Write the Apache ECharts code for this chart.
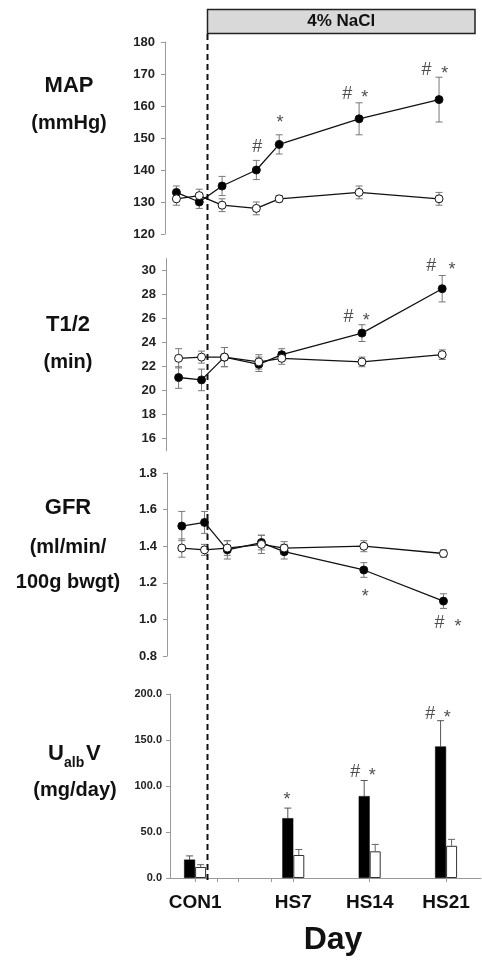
<!DOCTYPE html>
<html><head><meta charset="utf-8">
<script src="https://cdn.jsdelivr.net/npm/echarts@6/dist/echarts.min.js"></script>
<style>html,body{margin:0;padding:0;background:#fff}#c{width:482px;height:960px}</style>
</head><body><div id="c"></div>
<script>
// ---- data ----
const days = [-2, 0, 2, 5, 7, 14, 21];
const mapHS = [133, 130, 135, 140, 148, 156, 162];
const mapHSErr = [2, 2, 3, 3, 3, 5, 7];
const mapNS = [131, 132, 129, 128, 131, 133, 131];
const mapNSErr = [2, 2, 2, 2, 1, 2, 2];
const t12HS = [21.1, 20.9, 22.8, 22.2, 23.0, 24.8, 28.5];
const t12HSErr = [0.9, 0.9, 0.8, 0.6, 0.5, 0.7, 1.1];
const t12NS = [22.7, 22.8, 22.8, 22.4, 22.7, 22.4, 23.0];
const t12NSErr = [0.8, 0.5, 0.8, 0.6, 0.5, 0.4, 0.4];
const gfrHS = [1.51, 1.53, 1.38, 1.42, 1.37, 1.27, 1.10];
const gfrHSErr = [0.08, 0.06, 0.05, 0.04, 0.04, 0.04, 0.04];
const gfrNS = [1.39, 1.38, 1.39, 1.41, 1.39, 1.40, 1.36];
const gfrNSErr = [0.05, 0.03, 0.04, 0.05, 0.035, 0.03, 0.02];
const barDays = [-2, 7, 14, 21];
const barLabels = ['CON1', 'HS7', 'HS14', 'HS21'];
const ualbHS = [20, 65, 89, 143];
const ualbHSErr = [4, 11, 17, 28];
const ualbNS = [12, 25, 29, 35];
const ualbNSErr = [2.5, 6, 7.5, 7];
const t12Ticks = [16, 18, 20, 22, 24, 26, 28, 30];
const naclStartDay = 0.68;
// annotations: [day, value, text]
const mapNotes = [[5.08, 147.3, '#'], [7.07, 155.8, '*'], [12.96, 163.7, '#'], [14.5, 163.7, '*'], [19.9, 171.2, '#'], [21.5, 171.2, '*']];
const t12Notes = [[12.82, 26.15, '#'], [14.37, 26.15, '*'], [20.04, 30.4, '#'], [21.85, 30.4, '*']];
const gfrNotes = [[14.12, 1.143, '*'], [20.66, 0.979, '#'], [22.27, 0.979, '*']];
const ualbNotes = [[6.43, 89.5, '*'], [12.67, 115.7, '#'], [14.23, 115.7, '*'], [19.54, 178.7, '#'], [21.1, 178.7, '*']];

// ---- helpers ----
const FONT = '"Liberation Sans", Arial, sans-serif';
const pairs = (xs, ys) => xs.map((x, i) => [x, ys[i]]);
const errData = (xs, ys, es, both) => xs.map((x, i) => [x, both ? ys[i] - es[i] : ys[i], ys[i] + es[i]]);

function errSeries(idx, data, both, dx, color) {
  return {
    type: 'custom', xAxisIndex: idx, yAxisIndex: idx, z: 1, silent: true,
    encode: { x: 0, y: [1, 2] },
    data,
    renderItem: function (params, api) {
      const x = api.value(0), lo = api.value(1), hi = api.value(2);
      const p1 = api.coord([x, lo]), p2 = api.coord([x, hi]);
      const px = p1[0] + dx, c = 3.5;
      const st = { stroke: color, lineWidth: 1 };
      const ch = [
        { type: 'line', shape: { x1: px, y1: p1[1], x2: px, y2: p2[1] }, style: st },
        { type: 'line', shape: { x1: px - c, y1: p2[1], x2: px + c, y2: p2[1] }, style: st }
      ];
      if (both) ch.push({ type: 'line', shape: { x1: px - c, y1: p1[1], x2: px + c, y2: p1[1] }, style: st });
      return { type: 'group', children: ch };
    }
  };
}
function lineSeries(idx, ys, filled) {
  return {
    type: 'line', xAxisIndex: idx, yAxisIndex: idx, z: 3,
    data: pairs(days, ys), symbol: 'circle', symbolSize: 8,
    lineStyle: { color: '#111', width: 1.3 },
    itemStyle: { color: filled ? '#000' : '#fff', borderColor: '#111', borderWidth: 1 },
    emphasis: { disabled: true }
  };
}
function noteSeries(idx, notes) {
  return {
    type: 'scatter', xAxisIndex: idx, yAxisIndex: idx, z: 5, symbolSize: 1,
    itemStyle: { color: 'rgba(0,0,0,0)' },
    data: notes.map(n => ({
      value: [n[0], n[1]], name: n[2],
      label: { offset: n[2] === '*' ? [0, 4] : [0, 0] }
    })),
    label: { show: true, position: 'inside', formatter: '{b}', color: '#222', fontSize: 18, fontFamily: FONT }
  };
}
const yLabel = (size, margin, fmt) => ({ color: '#222', fontWeight: 'bold', fontSize: size, fontFamily: FONT, margin, formatter: fmt });
const yLine = { show: true, onZero: false, lineStyle: { color: '#999', width: 1 } };
const yTick = { show: true, inside: false, length: 4, lineStyle: { color: '#999' } };
const hiddenX = (min, max) => ({ type: 'value', min, max, show: false });

const grids = [
  { left: 165, top: 42, width: 314, height: 192 },
  { left: 166, top: 258.7, width: 314, height: 192 },
  { left: 167, top: 473, width: 314, height: 183 },
  { left: 170, top: 694, width: 311, height: 184 }
];

const option = {
  animation: false,
  backgroundColor: '#fff',
  grid: grids,
  xAxis: [
    hiddenX(-3.0, 24.5),
    hiddenX(-3.1, 24.3),
    hiddenX(-3.3, 24.3),
    {
      type: 'value', min: -4.3, max: 24.2,
      axisLine: { show: true, onZero: false, lineStyle: { color: '#999' } },
      axisTick: { show: true, length: 4, lineStyle: { color: '#999' }, customValues: days },
      axisLabel: {
        customValues: barDays, margin: 15, color: '#111', fontWeight: 'bold', fontSize: 19, fontFamily: FONT,
        formatter: v => barLabels[barDays.indexOf(v)] || ''
      },
      splitLine: { show: false }
    }
  ].map((a, i) => Object.assign({ gridIndex: i }, a)),
  yAxis: [
    { gridIndex: 0, type: 'value', min: 120, max: 180, interval: 10, axisLine: yLine, axisTick: yTick, axisLabel: yLabel(13, 10), splitLine: { show: false } },
    { gridIndex: 1, type: 'value', min: 15, max: 31, axisLine: yLine,
      axisTick: Object.assign({ customValues: t12Ticks }, yTick),
      axisLabel: Object.assign({ customValues: t12Ticks }, yLabel(13, 10)), splitLine: { show: false } },
    { gridIndex: 2, type: 'value', min: 0.8, max: 1.8, interval: 0.2, axisLine: yLine, axisTick: yTick, axisLabel: yLabel(13, 10, v => v.toFixed(1)), splitLine: { show: false } },
    { gridIndex: 3, type: 'value', min: 0, max: 200, interval: 50, axisLine: yLine, axisTick: yTick, axisLabel: yLabel(11, 8, v => v.toFixed(1)), splitLine: { show: false } }
  ],
  series: [
    errSeries(0, errData(days, mapHS, mapHSErr, true), true, 0, '#777'),
    errSeries(0, errData(days, mapNS, mapNSErr, true), true, 0, '#777'),
    lineSeries(0, mapHS, true), lineSeries(0, mapNS, false),
    noteSeries(0, mapNotes),

    errSeries(1, errData(days, t12HS, t12HSErr, true), true, 0, '#777'),
    errSeries(1, errData(days, t12NS, t12NSErr, true), true, 0, '#777'),
    lineSeries(1, t12HS, true), lineSeries(1, t12NS, false),
    noteSeries(1, t12Notes),

    errSeries(2, errData(days, gfrHS, gfrHSErr, true), true, 0, '#777'),
    errSeries(2, errData(days, gfrNS, gfrNSErr, true), true, 0, '#777'),
    lineSeries(2, gfrHS, true), lineSeries(2, gfrNS, false),
    noteSeries(2, gfrNotes),

    { type: 'bar', xAxisIndex: 3, yAxisIndex: 3, data: pairs(barDays, ualbHS), barWidth: 11, barGap: '0%',
      itemStyle: { color: '#000', borderColor: '#000', borderWidth: 0.5 }, z: 2 },
    { type: 'bar', xAxisIndex: 3, yAxisIndex: 3, data: pairs(barDays, ualbNS), barWidth: 11, barGap: '0%',
      itemStyle: { color: '#fff', borderColor: '#333', borderWidth: 1 }, z: 2 },
    errSeries(3, errData(barDays, ualbHS, ualbHSErr, false), false, -5.5, '#555'),
    errSeries(3, errData(barDays, ualbNS, ualbNSErr, false), false, 5.5, '#666'),
    noteSeries(3, ualbNotes)
  ]
};

const chart = echarts.init(document.getElementById('c'), null, { renderer: 'canvas' });
chart.setOption(option);

function txt(text, x, y, size, align) {
  return { type: 'text', x, y, z: 10, silent: true,
    style: { text, font: 'bold ' + size + 'px ' + FONT, fill: '#111',
      align: align || 'center', verticalAlign: 'middle', textAlign: align || 'center', textVerticalAlign: 'middle' } };
}
const dashX = Math.round(chart.convertToPixel({ gridIndex: 0 }, [naclStartDay, 120])[0]) + 0.5;
chart.setOption({
  graphic: [
    { type: 'rect', z: 10, silent: true, shape: { x: dashX, y: 9.5, width: 475 - dashX, height: 24 },
      style: { fill: '#d9d9d9', stroke: '#222', lineWidth: 1.5 } },
    txt('4% NaCl', (dashX + 475) / 2, 21.5, 17),
    { type: 'line', z: 10, silent: true, shape: { x1: dashX, y1: 34, x2: dashX, y2: 880 },
      style: { stroke: '#111', lineWidth: 2, lineDash: [6, 4] } },
    txt('MAP', 69, 86, 22), txt('(mmHg)', 69, 123, 20),
    txt('T1/2', 68, 325, 22), txt('(min)', 68, 362, 20),
    txt('GFR', 68, 508, 22), txt('(ml/min/', 68, 547, 20), txt('100g bwgt)', 68, 582, 20),
    txt('U', 48, 754, 22, 'left'), txt('alb', 64, 763, 14, 'left'), txt('V', 86, 754, 22, 'left'),
    txt('(mg/day)', 75, 790, 20),
    txt('Day', 333, 940, 32)
  ]
});
</script>
</body></html>
